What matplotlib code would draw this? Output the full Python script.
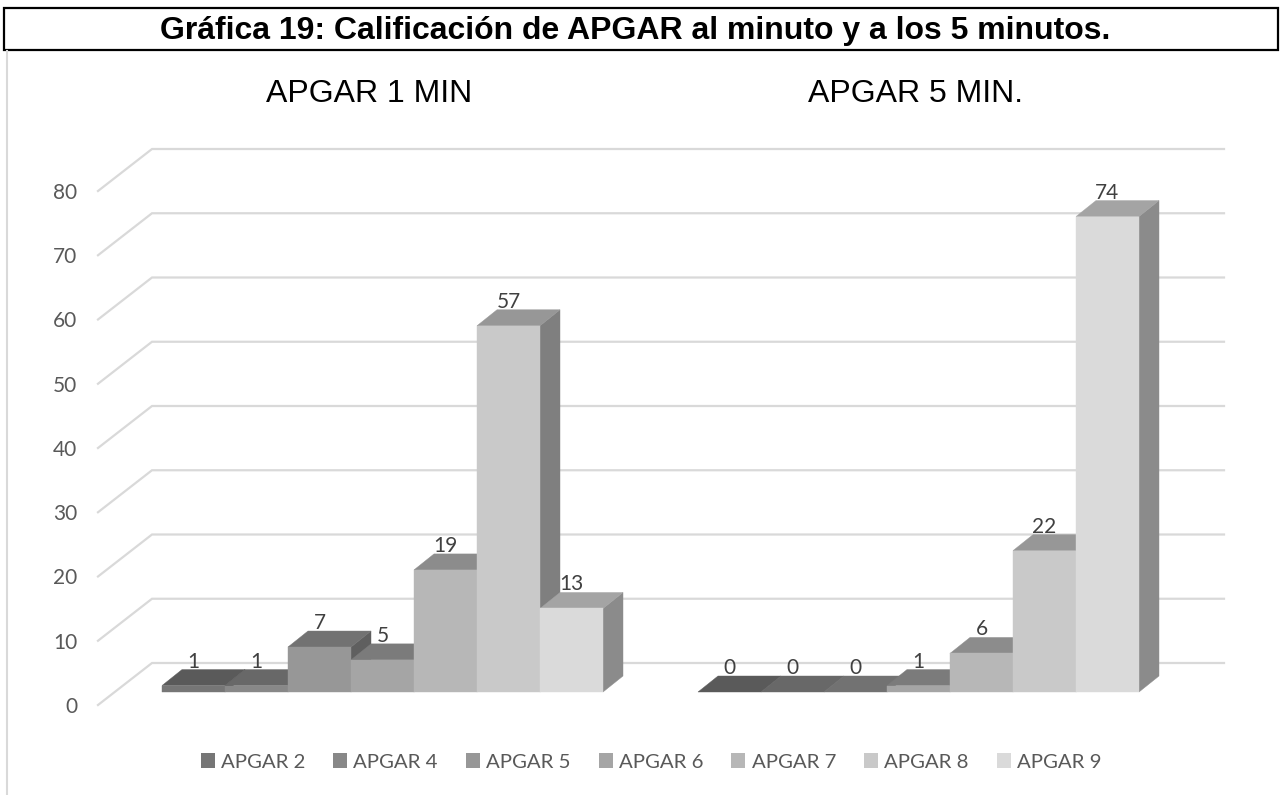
import matplotlib
matplotlib.use('Agg')
import matplotlib.pyplot as plt
from matplotlib.patches import Polygon, Patch, Rectangle

groups = ['APGAR 1 MIN', 'APGAR 5 MIN.']
series = ['APGAR 2', 'APGAR 4', 'APGAR 5', 'APGAR 6', 'APGAR 7', 'APGAR 8', 'APGAR 9']
apgar_1 = [1, 1, 7, 5, 19, 57, 13]
apgar_5 = [0, 0, 0, 1, 6, 22, 74]
yticks = [0, 10, 20, 30, 40, 50, 60, 70, 80]

# greys per series: front, top and right side of each box
front = ['#767676', '#888888', '#979797', '#a5a5a5', '#b7b7b7', '#c9c9c9', '#dadada']
top = ['#5a5a5a', '#686868', '#727272', '#7b7b7b', '#8c8c8c', '#979797', '#a4a4a4']
side = ['#4f4f4f', '#5a5a5a', '#5f5f5f', '#6a6a6a', '#767676', '#7f7f7f', '#8b8b8b']

W, H = 1281, 795
fig = plt.figure(figsize=(W / 100, H / 100), dpi=100)

# axes = front edge of the fake 3D box, 98..1170 px across, 0 at y=705, 80 at y=191
ax = fig.add_axes([98 / W, (H - 705) / H, 1072 / W, 514 / H])
ax.set_xlim(-0.5, 1.5)
ax.set_ylim(0, 80)
ax.patch.set_alpha(0)
for s in ax.spines.values():
    s.set_visible(False)

# pixel sizes turned into data units
px_x = 2 / 1072
px_y = 80 / 514
wall_dx, wall_dy = 54 * px_x, 42 * px_y
bar_ox, bar_oy = 16.5 * px_x, 13 * px_y
bar_dx, bar_dy = 20 * px_x, 16 * px_y
bar_w = 63 * px_x

# gridlines run along the floor/back wall
for v in yticks:
    ax.plot([-0.5, -0.5 + wall_dx, 1.5 + wall_dx], [v, v + wall_dy, v + wall_dy],
            color='#d9d9d9', lw=1.6, clip_on=False, zorder=1, solid_joinstyle='miter')


def box(x0, v, i):
    x1 = x0 + bar_w
    y0 = bar_oy
    y1 = bar_oy + v
    ax.add_patch(Polygon([(x1, y0), (x1 + bar_dx, y0 + bar_dy), (x1 + bar_dx, y1 + bar_dy), (x1, y1)],
                         fc=side[i], ec=side[i], lw=0.3, clip_on=False, zorder=2))
    ax.add_patch(Polygon([(x0, y1), (x1, y1), (x1 + bar_dx, y1 + bar_dy), (x0 + bar_dx, y1 + bar_dy)],
                         fc=top[i], ec=top[i], lw=0.3, clip_on=False, zorder=2))
    if v > 0:
        ax.add_patch(Rectangle((x0, y0), bar_w, v, fc=front[i], ec=front[i], lw=0.3, clip_on=False, zorder=2))
    ax.text(x0 + bar_w / 2, y1 + 24 * px_y, str(v), ha='center', va='center',
            fontsize=15, family='Lato', color='#404040', zorder=3)


for c, vals in enumerate([apgar_1, apgar_5]):
    for i, v in enumerate(vals):
        box(c + bar_ox + (i - 3.5) * bar_w, v, i)

ax.set_xticks([])
ax.set_yticks(yticks)
ax.tick_params(axis='y', length=0, pad=15, labelsize=15, labelcolor='#595959')
for t in ax.get_yticklabels():
    t.set_family('Lato')

# group headings
fig.text(369 / W, 1 - 94.5 / H, groups[0], ha='center', va='center', fontsize=23, family='Liberation Sans')
fig.text(915.5 / W, 1 - 94.5 / H, groups[1], ha='center', va='center', fontsize=23, family='Liberation Sans')

# title box and left rule from the document
fig.add_artist(Rectangle((4 / W, 1 - 50 / H), 1274 / W, 42 / H, transform=fig.transFigure,
                         fc='white', ec='black', lw=1.6))
fig.add_artist(plt.Line2D([7 / W, 7 / W], [0, 1 - 51 / H], color='#d9d9d9', lw=1.5))
fig.text(635.5 / W, 1 - 31 / H, 'Gráfica 19: Calificación de APGAR al minuto y a los 5 minutos.',
         ha='center', va='center', fontsize=23, fontweight='bold', family='Liberation Sans')

handles = [Patch(fc=front[i], ec='none', label=series[i]) for i in range(len(series))]
fig.legend(handles=handles, ncols=7, loc='center', bbox_to_anchor=(651 / W, 1 - 762 / H), frameon=False,
           prop={'family': 'Lato', 'size': 14.7}, labelcolor='#595959',
           handlelength=0.69, handleheight=0.69, handletextpad=0.3, columnspacing=1.37)

fig.savefig('out.png', dpi=100)
plt.close()
